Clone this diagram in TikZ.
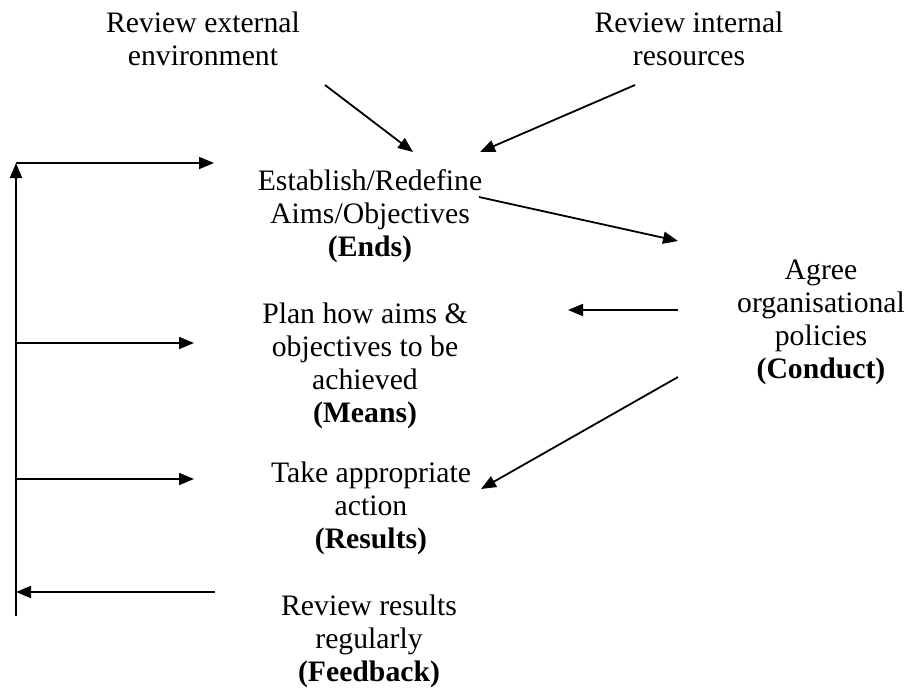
\documentclass[tikz,border=0pt]{standalone}
\usepackage{fontspec}
\setmainfont{Liberation Serif}
\usetikzlibrary{arrows.meta}
\newcommand{\blk}[1]{\fontsize{29.7}{33}\selectfont\renewcommand{\arraystretch}{1}\begin{tabular}[t]{@{}c@{}}#1\end{tabular}}
\tikzset{
  lbl/.style={anchor=base, inner sep=0pt},
  conn/.style={line width=1.8pt, -{Triangle[length=15pt,width=12pt]}},
}
\begin{document}
\begin{tikzpicture}[x=1pt,y=-1pt]
\useasboundingbox (0,0) rectangle (908,691);
% text blocks (positioned at the baseline of their first line)
\node[lbl] (ext) at (203,32) {\blk{Review external\\environment}};
\node[lbl] (int) at (689,32) {\blk{Review internal\\resources}};
\node[lbl] (ends) at (370,190) {\blk{Establish/Redefine\\Aims/Objectives\\\textbf{(Ends)}}};
\node[lbl] (cond) at (821,279) {\blk{Agree\\organisational\\policies\\\textbf{(Conduct)}}};
\node[lbl] (means) at (365,323) {\blk{Plan how aims \&\\objectives to be\\achieved\\\textbf{(Means)}}};
\node[lbl] (res) at (371,482) {\blk{Take appropriate\\action\\\textbf{(Results)}}};
\node[lbl] (fb) at (369,615) {\blk{Review results\\regularly\\\textbf{(Feedback)}}};
% connector end points
\coordinate (a1s) at (325,85);  \coordinate (a1e) at (413,152);
\coordinate (a2s) at (635,85);  \coordinate (a2e) at (480,152);
\coordinate (a3s) at (479,197); \coordinate (a3e) at (678,241);
\coordinate (a4s) at (678,310); \coordinate (a4e) at (568,310);
\coordinate (a5s) at (678,377); \coordinate (a5e) at (481,489);
\coordinate (vb) at (16,616);   \coordinate (vt) at (16,163);
\coordinate (h1e) at (214,163);
\coordinate (h2s) at (16,343);  \coordinate (h2e) at (194,343);
\coordinate (h3s) at (16,479);  \coordinate (h3e) at (194,479);
\coordinate (h4s) at (215,592); \coordinate (h4e) at (16,592);
% connectors
\draw[conn] (a1s) -- (a1e);
\draw[conn] (a2s) -- (a2e);
\draw[conn] (a3s) -- (a3e);
\draw[conn] (a4s) -- (a4e);
\draw[conn] (a5s) -- (a5e);
\draw[conn] (vb) -- (vt);
\draw[conn] (vt) -- (h1e);
\draw[conn] (h2s) -- (h2e);
\draw[conn] (h3s) -- (h3e);
\draw[conn] (h4s) -- (h4e);
\end{tikzpicture}
\end{document}
